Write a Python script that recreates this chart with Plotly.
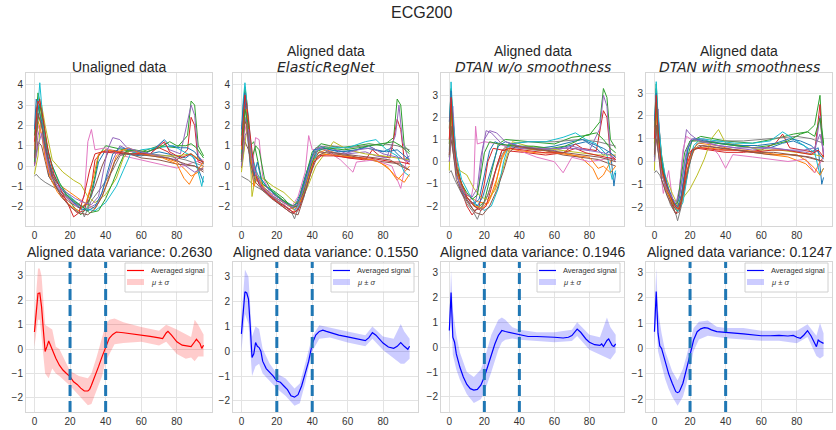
import plotly.graph_objects as go

# ---------------- DATA ----------------
x_ticks = [0, 20, 40, 60, 80]
tab10 = ["#1f77b4", "#ff7f0e", "#2ca02c", "#d62728", "#9467bd",
         "#8c564b", "#e377c2", "#7f7f7f", "#bcbd22", "#17becf"]

curves_unaligned = [
    [(0,0.5),(2,3.0),(4,2.2),(6,0.8),(8,-0.5),(12,-1.0),(18,-1.5),(24,-1.9),(28,-2.0),(32,-1.5),(36,0.2),(40,0.8),(50,0.6),(60,0.5),(70,0.7),(80,0.5),(85,0.4),(88,0.6),(90,0.3),(95,-0.8)],
    [(0,1.0),(2,2.5),(4,2.0),(8,0.3),(12,-0.8),(20,-1.3),(28,-1.8),(34,-2.1),(38,-1.5),(42,-0.5),(46,0.5),(50,0.8),(60,0.6),(70,0.5),(80,0.2),(85,-0.2),(88,-0.5),(92,-0.3),(95,0.0)],
    [(0,1.5),(2,3.6),(3,3.2),(6,1.0),(10,-0.5),(16,-1.2),(22,-2.0),(26,-2.4),(30,-2.0),(34,-0.5),(36,0.5),(40,1.0),(50,0.8),(60,0.7),(70,1.0),(80,0.9),(86,1.5),(88,3.2),(90,3.0),(92,1.0),(95,0.5)],
    [(0,0.1),(1,2.8),(3,3.3),(5,2.0),(8,0.2),(12,-1.0),(18,-1.8),(24,-2.3),(28,-2.2),(32,-1.0),(34,0.3),(38,0.7),(50,0.6),(60,0.6),(70,0.9),(75,0.7),(80,0.3),(86,0.8),(88,2.4),(90,2.0),(92,0.2),(95,0.1)],
    [(0,0.3),(2,1.5),(4,2.2),(6,0.5),(10,-0.8),(16,-1.4),(24,-2.0),(30,-2.1),(36,-1.8),(40,-0.8),(44,0.3),(48,1.0),(55,0.7),(65,0.6),(72,1.2),(76,0.8),(82,0.6),(88,3.0),(90,2.5),(92,0.5),(95,0.2)],
    [(0,0.0),(2,1.2),(4,1.0),(8,-0.5),(14,-1.3),(20,-1.8),(26,-2.1),(30,-1.8),(34,-1.0),(38,0.0),(42,0.8),(50,0.7),(60,0.4),(70,0.3),(80,0.1),(90,0.0),(95,-0.3)],
    [(0,0.2),(2,2.0),(4,1.5),(8,-0.3),(14,-1.1),(20,-1.7),(24,-2.0),(28,-1.5),(30,1.2),(32,1.8),(34,0.8),(40,0.9),(50,0.5),(60,0.3),(70,0.1),(80,-0.1),(90,0.2),(95,0.3)],
    [(0,-0.5),(1,-0.4),(3,-0.6),(6,-0.8),(12,-1.1),(20,-1.6),(26,-2.0),(28,-2.5),(32,-1.7),(38,-1.0),(44,-0.2),(48,0.5),(55,0.8),(65,0.6),(75,0.5),(85,0.3),(95,0.0)],
    [(0,-0.4),(2,0.5),(4,3.0),(6,2.0),(10,0.3),(16,-0.3),(22,-0.7),(26,-0.9),(30,-1.5),(34,-1.8),(40,-1.4),(46,-0.6),(50,0.4),(54,0.8),(60,0.7),(70,0.5),(80,0.5),(88,0.6),(95,0.2)],
    [(0,0.6),(2,3.0),(3,4.1),(5,2.0),(8,0.5),(14,-0.9),(20,-1.5),(28,-2.1),(34,-2.2),(40,-1.8),(46,-1.0),(50,-0.2),(54,0.6),(60,0.8),(70,0.9),(78,1.0),(84,0.7),(90,0.4),(94,-1.0),(95,-0.5)],
    [(0,1.8),(1,3.3),(3,2.6),(5,1.5),(7,0.6),(10,-0.3),(14,-1.0),(18,-1.4),(22,-1.8),(26,-2.1),(30,-2.2),(34,-2.0),(38,-1.3),(41,-0.3),(44,0.6),(48,0.9),(55,0.8),(62,0.6),(68,0.9),(73,1.3),(76,1.0),(82,0.9),(86,0.9),(90,0.7),(93,0.3),(95,0.1)],
    [(0,0.8),(2,2.2),(4,1.6),(6,0.4),(9,-0.6),(13,-1.3),(17,-1.7),(21,-2.0),(25,-2.2),(29,-1.8),(33,-0.6),(36,0.6),(40,0.8),(47,0.7),(53,0.9),(60,0.6),(66,0.5),(72,0.4),(80,0.1),(84,-0.6),(87,-0.9),(90,-0.4),(95,0.2)],
    [(0,0.2),(1,1.5),(3,3.0),(5,2.2),(7,1.0),(10,0.0),(14,-0.8),(18,-1.4),(22,-1.7),(27,-2.0),(31,-2.3),(36,-2.2),(40,-1.6),(44,-0.8),(48,0.1),(51,0.7),(56,0.8),(63,0.7),(70,0.9),(76,1.2),(80,1.0),(85,1.0),(88,1.1),(91,0.9),(95,0.4)],
    [(0,1.2),(2,3.2),(4,2.8),(6,1.6),(8,0.6),(11,-0.4),(15,-1.2),(19,-1.9),(22,-2.5),(25,-2.3),(28,-1.4),(31,-0.2),(34,0.6),(38,0.7),(45,0.7),(55,0.6),(65,0.6),(73,1.2),(76,0.7),(82,0.4),(88,0.6),(92,0.3),(95,0.2)],
    [(0,0.0),(2,1.0),(4,1.6),(6,0.8),(9,-0.4),(13,-1.0),(18,-1.3),(23,-1.6),(28,-1.8),(32,-1.9),(36,-1.5),(38,-0.5),(41,0.8),(44,1.4),(48,1.3),(52,0.9),(60,0.7),(70,0.5),(80,0.3),(85,0.0),(90,-0.3),(95,-0.1)],
    [(0,0.4),(2,2.6),(4,2.0),(6,0.9),(10,-0.6),(15,-1.5),(20,-2.0),(25,-2.3),(30,-2.4),(34,-2.1),(38,-1.5),(42,-0.6),(45,0.2),(48,0.6),(55,0.6),(65,0.5),(75,0.4),(85,0.1),(90,0.0),(95,-0.2)],
]

curves_elastic = [
    [(0,0.3),(1,2.5),(2,3.4),(3,2.0),(5,0.0),(7,-0.8),(9,-0.5),(12,-1.0),(16,-1.3),(20,-1.5),(26,-1.8),(30,-2.0),(33,-1.4),(36,-0.5),(40,0.5),(44,1.0),(50,0.8),(60,0.7),(70,0.9),(75,0.8),(80,0.7),(85,0.9),(88,0.6),(92,0.3),(95,0.5)],
    [(0,1.2),(2,2.4),(4,1.5),(6,0.5),(8,-0.2),(12,-0.9),(18,-1.3),(24,-1.7),(30,-2.2),(34,-1.6),(38,-0.5),(42,0.6),(48,0.8),(58,0.5),(68,0.4),(78,0.2),(84,-0.2),(88,-0.7),(92,-0.3),(95,0.0)],
    [(0,1.5),(2,3.9),(3,3.2),(5,1.0),(7,1.2),(9,0.3),(12,-0.9),(18,-1.2),(24,-1.6),(28,-2.0),(32,-1.8),(36,-0.6),(40,0.7),(45,1.1),(55,0.9),(65,1.0),(72,1.1),(80,1.0),(86,1.4),(88,3.3),(90,3.0),(92,1.0),(95,0.7)],
    [(0,0.2),(2,3.0),(3,3.1),(5,1.0),(7,-0.3),(10,-0.8),(16,-1.5),(22,-1.9),(28,-2.3),(32,-2.2),(36,-1.0),(40,0.1),(44,0.5),(50,0.6),(60,0.4),(70,0.3),(74,0.8),(78,0.5),(84,0.4),(88,2.3),(90,1.8),(92,0.3),(95,0.1)],
    [(0,0.5),(1,1.8),(3,2.5),(5,0.5),(8,-0.6),(12,-1.1),(18,-1.5),(26,-1.9),(31,-2.1),(35,-1.4),(39,-0.2),(43,0.8),(50,0.9),(60,0.6),(70,0.7),(76,0.5),(82,0.4),(87,1.5),(89,3.0),(91,1.2),(95,0.2)],
    [(0,-0.1),(2,1.2),(4,0.8),(7,-0.4),(12,-1.2),(20,-1.7),(27,-2.1),(31,-2.0),(35,-1.2),(40,0.2),(44,0.7),(52,0.6),(62,0.5),(72,0.3),(82,0.2),(90,0.1),(95,-0.2)],
    [(0,0.3),(2,2.0),(4,1.2),(6,-0.2),(8,1.4),(10,1.3),(12,-0.5),(16,-1.3),(22,-1.6),(27,-2.2),(32,-1.5),(36,-0.3),(38,1.5),(40,0.8),(46,0.9),(56,0.3),(63,-0.3),(65,0.2),(75,0.3),(85,0.0),(90,-1.1),(93,0.2),(95,0.4)],
    [(0,-0.5),(2,-0.6),(4,-0.7),(8,-1.0),(14,-1.3),(22,-1.8),(28,-2.2),(30,-2.6),(33,-1.8),(37,-0.4),(42,0.9),(50,1.0),(60,0.9),(70,1.0),(80,1.1),(88,1.0),(95,0.8)],
    [(0,-0.3),(2,1.0),(4,2.5),(6,-1.5),(8,-0.5),(12,-0.6),(18,-1.0),(24,-1.3),(30,-1.8),(34,-1.7),(38,-0.9),(42,0.0),(46,0.5),(52,1.2),(60,0.8),(70,0.6),(80,0.5),(88,0.4),(95,0.3)],
    [(0,0.6),(1,3.2),(2,4.1),(4,2.2),(6,0.5),(9,-0.4),(14,-1.0),(20,-1.4),(26,-1.9),(31,-2.2),(35,-1.6),(39,-0.3),(43,0.8),(50,0.9),(60,0.9),(70,1.2),(76,1.3),(82,0.8),(88,0.5),(92,-0.3),(95,-0.5)],
    [(0,1.8),(1,3.0),(2,3.6),(3,2.5),(5,0.8),(7,-0.5),(9,0.2),(11,-0.6),(15,-1.1),(20,-1.5),(25,-1.8),(29,-2.1),(33,-1.6),(37,-0.4),(41,0.8),(46,0.9),(55,0.7),(65,0.8),(72,1.0),(76,0.8),(82,0.7),(88,0.8),(92,0.5),(95,0.3)],
    [(0,0.8),(2,2.6),(3,2.8),(5,0.8),(7,-1.0),(9,-0.6),(13,-1.1),(18,-1.5),(24,-1.8),(29,-2.1),(33,-1.8),(37,-0.8),(41,0.3),(45,0.6),(55,0.5),(65,0.4),(75,0.3),(82,0.0),(87,-0.5),(92,-0.8),(95,-0.4)],
    [(0,0.2),(1,1.4),(2,2.8),(4,2.0),(6,0.4),(8,1.0),(10,0.8),(13,-0.6),(17,-1.2),(22,-1.6),(27,-1.9),(31,-2.0),(35,-1.3),(38,-0.3),(42,0.7),(48,0.9),(58,0.8),(66,0.9),(72,1.0),(80,1.1),(86,1.2),(90,1.0),(95,0.6)],
    [(0,1.0),(2,3.5),(3,3.0),(5,1.5),(7,0.0),(10,-0.9),(15,-1.4),(21,-1.8),(26,-2.1),(30,-2.3),(33,-2.0),(37,-1.0),(41,0.2),(45,0.5),(52,0.5),(62,0.4),(72,0.4),(80,0.3),(86,0.2),(90,0.2),(95,0.1)],
    [(0,0.0),(2,1.5),(4,1.8),(6,0.3),(8,-0.3),(11,-1.0),(16,-1.4),(22,-1.7),(28,-2.0),(32,-1.9),(36,-0.9),(40,0.4),(44,0.9),(50,0.7),(58,0.6),(66,0.8),(74,0.9),(80,0.6),(86,0.5),(90,0.4),(95,0.2)],
    [(0,0.3),(2,2.2),(3,2.0),(5,0.2),(8,-0.8),(12,-1.2),(17,-1.6),(23,-2.0),(28,-2.3),(32,-2.4),(35,-1.6),(39,-0.4),(43,0.5),(48,0.7),(56,0.6),(66,0.5),(76,0.4),(84,0.3),(90,0.0),(95,-0.2)],
]

curves_dtan_nosmooth = [
    [(0,0.5),(1,3.0),(2,1.5),(4,-0.5),(7,-1.2),(10,-1.6),(14,-1.9),(17,-1.7),(20,-0.6),(23,0.5),(26,0.9),(32,0.7),(42,0.6),(52,0.5),(62,0.6),(72,0.8),(78,0.9),(84,0.6),(88,0.3),(92,0.5),(94,-1.1),(95,-0.5)],
    [(0,1.0),(1,2.4),(3,0.8),(6,-0.8),(10,-1.5),(16,-1.8),(22,-1.9),(26,-1.2),(30,0.2),(34,0.8),(42,0.6),(55,0.5),(65,0.4),(75,0.2),(82,-0.3),(85,-0.8),(88,-0.6),(92,0.0),(95,0.2)],
    [(0,1.5),(1,3.3),(2,2.0),(4,0.0),(8,-1.4),(12,-1.8),(16,-2.1),(20,-1.8),(24,-0.5),(28,0.8),(32,1.0),(45,0.9),(60,0.8),(70,1.1),(80,1.2),(86,1.8),(88,3.3),(90,2.9),(92,1.0),(95,0.6)],
    [(0,0.2),(1,2.5),(2,1.0),(4,-0.5),(7,-1.3),(10,-2.0),(13,-2.4),(17,-2.0),(20,-1.0),(22,0.0),(25,0.6),(32,0.5),(45,0.4),(55,0.3),(65,0.4),(72,0.8),(76,0.6),(84,0.5),(88,2.3),(90,2.0),(92,0.3),(95,0.1)],
    [(0,0.4),(1,1.8),(2,2.5),(4,0.0),(6,-1.2),(9,-1.6),(12,-1.9),(15,-1.8),(17,-1.0),(19,0.5),(21,1.4),(24,1.3),(30,0.8),(40,0.6),(50,0.6),(60,0.5),(70,0.7),(80,0.5),(86,1.5),(88,3.0),(90,2.5),(92,0.4),(95,0.2)],
    [(0,0.0),(1,1.0),(3,0.0),(6,-1.0),(10,-1.7),(14,-2.2),(18,-2.1),(22,-1.5),(26,-0.5),(30,0.5),(34,0.8),(45,0.6),(55,0.5),(65,0.3),(75,0.2),(85,0.1),(95,-0.2)],
    [(0,0.3),(1,2.0),(3,0.5),(6,-1.0),(9,-1.5),(12,-1.8),(14,-1.0),(15,1.6),(16,0.8),(20,0.9),(28,0.8),(40,0.5),(50,0.2),(60,0.0),(65,-0.5),(70,0.2),(80,0.0),(88,0.1),(92,0.2),(95,0.3)],
    [(0,-0.5),(1,-0.4),(3,-0.8),(6,-1.3),(10,-1.9),(14,-2.3),(16,-2.6),(18,-2.2),(22,-1.5),(26,-0.5),(30,0.3),(34,0.8),(45,0.9),(60,0.9),(75,1.0),(85,0.9),(95,0.7)],
    [(0,-0.4),(1,3.0),(2,1.0),(4,-0.2),(6,-0.4),(10,-0.6),(14,-1.2),(18,-1.6),(22,-1.7),(26,-1.3),(30,-0.5),(33,0.3),(36,0.9),(45,0.7),(55,0.6),(65,0.5),(75,0.4),(85,0.3),(95,0.3)],
    [(0,0.8),(1,3.6),(2,2.0),(4,0.3),(7,-0.8),(11,-1.4),(15,-1.9),(20,-2.2),(24,-2.0),(28,-1.2),(31,0.0),(34,0.8),(45,0.9),(55,0.9),(65,1.1),(72,1.3),(78,1.0),(84,0.8),(90,0.3),(93,-0.8),(95,-0.4)],
    [(0,1.8),(1,3.2),(2,1.8),(3,0.2),(5,-0.8),(8,-1.4),(12,-1.8),(16,-2.0),(19,-1.6),(22,-0.8),(25,0.0),(28,0.7),(32,0.9),(40,0.7),(50,0.6),(60,0.7),(70,0.9),(76,1.0),(82,0.8),(88,0.6),(92,0.4),(95,0.2)],
    [(0,0.8),(1,2.2),(2,1.0),(4,-0.4),(7,-1.2),(11,-1.7),(15,-2.0),(19,-2.1),(23,-1.7),(27,-0.8),(30,0.1),(33,0.6),(40,0.5),(50,0.4),(60,0.4),(70,0.3),(80,0.2),(85,-0.3),(88,-0.2),(92,-0.5),(95,-0.2)],
    [(0,0.2),(1,2.6),(2,1.2),(4,-0.3),(7,-1.0),(10,-1.4),(13,-1.7),(16,-1.5),(18,-0.6),(20,0.4),(23,0.9),(28,0.8),(38,0.7),(48,0.7),(58,0.6),(66,0.7),(72,0.9),(78,1.2),(84,1.3),(88,1.0),(92,0.6),(95,0.4)],
    [(0,1.0),(1,2.9),(2,1.5),(4,-0.2),(7,-1.0),(10,-1.6),(14,-2.0),(18,-2.2),(21,-2.0),(24,-1.2),(27,-0.2),(30,0.5),(35,0.6),(45,0.5),(55,0.4),(65,0.4),(72,0.6),(78,0.4),(84,0.3),(90,0.2),(95,0.1)],
    [(0,0.0),(1,1.4),(2,0.8),(4,-0.6),(7,-1.2),(10,-1.5),(13,-1.6),(16,-1.2),(18,0.2),(20,1.0),(23,1.4),(27,1.3),(32,0.9),(40,0.7),(50,0.6),(60,0.6),(70,0.6),(80,0.5),(88,0.4),(92,0.3),(95,0.0)],
    [(0,0.3),(1,1.6),(2,0.6),(4,-0.8),(7,-1.4),(11,-1.9),(15,-2.3),(19,-2.4),(23,-2.0),(27,-1.3),(31,-0.4),(34,0.4),(38,0.7),(48,0.6),(58,0.5),(68,0.4),(78,0.3),(86,0.2),(95,0.0)],
]

curves_dtan_smooth = [
    [(0,0.5),(1,3.2),(2,1.5),(4,0.0),(6,-1.0),(9,-1.6),(12,-2.0),(14,-1.6),(17,0.0),(20,0.9),(25,1.0),(35,0.8),(45,0.7),(55,0.6),(65,0.6),(72,0.8),(78,0.9),(84,0.7),(88,0.4),(92,0.6),(94,-1.0),(95,-0.7)],
    [(0,1.0),(1,2.4),(3,0.5),(6,-1.0),(9,-1.6),(12,-2.0),(15,-1.8),(18,-0.5),(21,0.5),(25,0.8),(35,0.7),(45,0.5),(55,0.4),(65,0.3),(75,0.2),(85,-0.1),(90,-0.5),(93,0.0),(95,0.2)],
    [(0,1.5),(1,3.4),(2,2.0),(4,0.3),(7,-1.2),(10,-1.9),(13,-2.2),(15,-1.6),(18,0.0),(21,0.9),(26,1.1),(40,0.9),(55,0.8),(68,1.0),(78,1.2),(86,1.3),(90,1.6),(92,2.5),(93,2.9),(94,1.5),(95,0.8)],
    [(0,0.2),(1,2.4),(2,1.5),(4,-0.2),(7,-1.3),(10,-1.9),(12,-2.3),(14,-2.0),(16,-1.0),(19,0.3),(22,0.6),(30,0.5),(40,0.4),(50,0.4),(60,0.5),(68,0.8),(72,1.2),(76,0.6),(84,0.5),(90,0.4),(93,2.5),(94,1.0),(95,0.2)],
    [(0,0.4),(1,1.8),(2,2.3),(4,0.0),(6,-0.8),(9,-1.5),(12,-1.9),(14,-1.2),(16,0.3),(18,1.4),(20,1.2),(25,0.9),(35,0.7),(45,0.6),(55,0.5),(65,0.6),(75,0.5),(85,0.4),(90,0.3),(93,2.0),(95,0.3)],
    [(0,0.0),(1,1.0),(3,0.0),(6,-1.1),(9,-1.7),(12,-2.1),(15,-1.8),(18,-0.6),(21,0.4),(25,0.7),(35,0.6),(45,0.5),(55,0.4),(65,0.3),(75,0.3),(85,0.2),(95,0.0)],
    [(0,0.3),(1,2.0),(2,1.0),(3,-0.2),(5,-1.4),(8,-0.4),(10,-1.6),(12,-2.0),(14,-1.3),(16,0.5),(18,1.1),(22,0.9),(28,1.0),(36,0.3),(40,-0.3),(44,0.3),(55,0.2),(65,0.1),(75,0.0),(85,0.1),(90,-0.5),(95,0.2)],
    [(0,-0.5),(1,-0.4),(3,-0.6),(6,-1.2),(9,-1.9),(12,-2.3),(13,-2.6),(15,-2.0),(18,-0.8),(21,0.4),(24,0.8),(35,0.9),(50,0.9),(65,1.0),(80,1.1),(88,1.0),(95,0.8)],
    [(0,-0.4),(1,2.8),(2,1.0),(4,-0.3),(7,-0.8),(10,-1.4),(13,-1.9),(16,-1.6),(20,-1.2),(24,-0.6),(28,0.1),(32,1.0),(36,1.4),(40,0.8),(50,0.7),(60,0.5),(70,0.5),(80,0.4),(90,0.3),(95,0.2)],
    [(0,0.8),(1,3.5),(2,2.0),(4,0.2),(7,-1.0),(10,-1.7),(13,-2.2),(16,-1.8),(19,-0.4),(22,0.7),(26,1.0),(35,0.9),(45,0.8),(55,0.8),(65,0.9),(72,1.3),(78,1.0),(84,0.7),(90,0.4),(93,-0.6),(95,-0.3)],
    [(0,1.8),(1,3.0),(2,1.6),(3,0.5),(5,-0.4),(8,-1.2),(11,-1.8),(13,-2.0),(15,-1.5),(17,-0.4),(19,0.6),(22,1.0),(28,0.9),(38,0.8),(48,0.7),(58,0.7),(68,0.8),(76,1.0),(82,0.9),(88,0.7),(92,0.4),(95,0.1)],
    [(0,0.8),(1,2.2),(2,0.8),(4,-0.5),(7,-1.3),(10,-1.8),(13,-2.1),(15,-1.9),(17,-1.0),(20,0.1),(23,0.6),(30,0.6),(40,0.5),(50,0.5),(60,0.4),(70,0.3),(80,0.3),(86,0.0),(90,-0.3),(93,-0.6),(95,-0.3)],
    [(0,0.2),(1,2.6),(2,1.2),(4,-0.1),(6,-0.9),(9,-1.5),(11,-1.9),(13,-1.8),(15,-0.8),(17,0.4),(20,0.9),(25,0.9),(35,0.8),(45,0.7),(55,0.6),(65,0.7),(75,0.9),(82,1.2),(86,1.3),(90,1.1),(93,1.9),(95,0.7)],
    [(0,1.0),(1,2.9),(2,1.4),(4,-0.3),(7,-1.1),(10,-1.7),(12,-2.0),(14,-2.1),(16,-1.4),(18,-0.2),(21,0.5),(26,0.6),(36,0.5),(46,0.5),(56,0.4),(66,0.5),(74,0.5),(82,0.4),(88,0.3),(92,0.5),(95,0.2)],
    [(0,0.0),(1,1.4),(2,0.6),(4,-0.6),(7,-1.2),(10,-1.6),(12,-1.8),(14,-1.5),(16,-0.6),(18,0.5),(21,1.0),(26,0.9),(36,0.7),(46,0.6),(56,0.6),(66,0.6),(76,0.5),(84,0.5),(90,0.6),(93,1.2),(95,0.4)],
    [(0,0.3),(1,1.6),(2,0.5),(4,-0.8),(7,-1.5),(10,-2.0),(12,-2.3),(14,-2.2),(16,-1.5),(19,-0.3),(22,0.5),(27,0.7),(37,0.6),(47,0.5),(57,0.4),(67,0.4),(77,0.3),(87,0.2),(95,0.0)],
]

# mean signals (bottom row)
mean_x_unaligned = [0,1,2,3,4,5,6,7,8,9,10,12,14,16,18,20,22,24,26,28,30,31,32,34,36,38,40,42,44,46,50,55,60,65,70,72,74,75,77,80,83,86,88,90,91,93,94,95]
mean_unaligned = [0.7,1.6,2.28,2.3,1.73,0.78,-0.1,0.1,0.33,0.16,-0.04,-0.38,-0.66,-0.86,-1.0,-1.13,-1.34,-1.45,-1.6,-1.72,-1.72,-1.65,-1.48,-1.13,-0.72,-0.31,0.1,0.44,0.6,0.7,0.67,0.63,0.58,0.52,0.46,0.43,0.66,0.73,0.57,0.3,0.16,0.12,0.1,0.3,0.4,0.23,0.03,0.16]
band_x_unaligned = [0,2,3,4,6,8,10,12,14,20,25,30,32,35,38,40,42,45,50,60,70,74,80,85,88,90,92,95]
band_lo_unaligned = [0.1,1.2,1.2,0.5,-1.0,-1.2,-0.8,-1.0,-1.1,-1.5,-1.9,-2.3,-2.25,-1.7,-1.1,-0.5,-0.2,0.2,0.25,0.3,0.15,0.3,-0.2,-0.4,-0.35,-0.5,-0.3,-0.3]
band_hi_unaligned = [1.3,3.3,3.3,3.0,1.0,0.9,0.8,0.1,0.0,-0.9,-1.1,-1.2,-1.0,-0.3,0.5,1.0,1.2,1.25,1.1,0.9,0.75,1.0,0.8,0.6,0.5,1.2,1.0,0.6]

mean_x_elastic = [0,1,2,3,4,5,6,7,8,9,10,11,12,14,16,18,20,22,24,26,28,30,32,34,36,38,40,42,44,46,48,50,55,60,65,70,72,74,76,78,80,83,86,88,90,92,94,95]
mean_elastic = [0.7,1.55,2.4,2.35,2.1,1.0,-0.25,-0.1,0.35,0.2,0.15,0.0,-0.4,-0.7,-0.85,-1.0,-1.2,-1.25,-1.4,-1.55,-1.8,-1.85,-1.75,-1.4,-0.9,-0.4,0.3,0.65,0.8,0.85,0.8,0.75,0.65,0.58,0.5,0.43,0.55,0.75,0.65,0.5,0.33,0.17,0.12,0.2,0.35,0.2,0.08,0.2]
band_x_elastic = [0,2,4,6,8,10,12,16,20,25,30,33,36,40,44,50,60,70,74,80,86,90,92,95]
band_lo_elastic = [0.0,1.5,1.1,-1.0,-0.6,-0.5,-0.9,-1.2,-1.5,-1.8,-2.2,-2.1,-1.3,0.0,0.5,0.55,0.35,0.2,0.5,0.05,-0.3,-0.5,-0.5,-0.3]
band_hi_elastic = [1.3,3.3,3.0,0.6,1.0,0.9,0.1,-0.5,-0.9,-1.1,-1.5,-1.3,-0.5,0.6,1.05,0.95,0.8,0.65,1.0,0.6,0.5,1.1,0.8,0.5]

mean_x_nosmooth = [0,1,2,3,4,6,8,10,12,14,16,18,20,22,24,26,28,30,32,34,36,38,40,45,50,55,60,65,68,70,72,73,75,78,80,83,86,87,88,90,91,93,94,95]
mean_nosmooth = [0.67,2.2,0.4,0.2,-0.27,-0.8,-1.2,-1.5,-1.67,-1.73,-1.7,-1.53,-1.2,-0.73,-0.27,0.13,0.47,0.67,0.63,0.6,0.58,0.53,0.5,0.43,0.43,0.4,0.4,0.37,0.4,0.47,0.67,0.73,0.6,0.33,0.2,0.1,0.07,0.13,0.03,0.27,0.33,0.07,0.03,0.13]
band_x_nosmooth = [0,1,2,4,6,10,14,18,20,24,28,30,32,36,40,50,60,70,73,80,86,90,92,95]
band_lo_nosmooth = [0.1,1.3,-0.3,-0.9,-1.3,-1.9,-2.25,-2.1,-1.8,-1.0,-0.1,0.2,0.3,0.35,0.3,0.25,0.2,0.25,0.45,-0.1,-0.3,-0.4,-0.5,-0.2]
band_hi_nosmooth = [1.0,3.1,1.5,0.5,-0.2,-1.0,-1.2,-0.9,-0.5,0.5,1.1,1.2,1.1,0.8,0.7,0.6,0.6,0.7,1.0,0.5,0.4,1.2,0.8,0.5]

mean_x_smooth = [0,1,2,3,4,5,6,8,10,12,13,14,16,18,20,22,24,26,28,30,32,35,40,45,50,55,60,65,70,75,78,80,82,84,86,88,90,91,92,93,95]
mean_smooth = [0.66,2.24,0.6,0.1,0.0,-0.25,-0.6,-1.0,-1.37,-1.7,-1.74,-1.7,-1.37,-0.85,-0.25,0.33,0.66,0.77,0.82,0.8,0.73,0.66,0.62,0.6,0.57,0.53,0.5,0.5,0.51,0.49,0.51,0.44,0.4,0.53,0.7,0.49,0.2,0.07,0.33,0.27,0.2]
band_x_smooth = [0,1,2,4,6,8,10,13,16,18,20,22,25,30,35,40,50,60,70,80,86,90,91,93,95]
band_lo_smooth = [0.1,1.3,-0.1,-0.7,-1.2,-1.6,-1.9,-2.25,-1.9,-1.4,-0.7,-0.1,0.35,0.5,0.45,0.4,0.35,0.3,0.3,0.2,0.45,-0.2,-0.3,-0.4,-0.3]
band_hi_smooth = [1.2,3.15,1.5,0.6,-0.1,-0.5,-0.9,-1.25,-0.8,-0.3,0.3,0.8,1.05,1.1,0.85,0.8,0.8,0.7,0.7,0.7,0.95,0.6,0.5,1.0,0.6]

variances = ["0.2630", "0.1550", "0.1946", "0.1247"]
vline_x = [20, 40]
legend_labels = ["Averaged signal", "<i>μ</i> ± <i>σ</i>"]

top_titles_1 = ["Unaligned data", "Aligned data", "Aligned data", "Aligned data"]
top_titles_2 = ["", "ElasticRegNet", "DTAN w/o smoothness", "DTAN with smoothness"]

# ---------------- LAYOUT GEOMETRY ----------------
W, H = 836, 430
col_px = [(26, 212), (233, 418), (441, 624), (646, 832)]
top_row_px = (73, 226)
bot_row_px = (262, 412)
top_yranges = [[-2.95, 4.58], [-2.95, 4.58], [-2.9, 4.0], [-2.83, 3.88]]
bot_yranges = [[-2.58, 3.57], [-2.45, 3.6], [-2.61, 3.43], [-2.5, 3.4]]
top_yticks = [[-2, -1, 0, 1, 2, 3, 4], [-2, -1, 0, 1, 2, 3, 4], [-2, -1, 0, 1, 2, 3], [-2, -1, 0, 1, 2, 3]]
bot_yticks = [-2, -1, 0, 1, 2, 3]

def px_x(p):
    return p / W

def px_y(p):
    return 1 - p / H

def xd(c):
    return [px_x(col_px[c][0]), px_x(col_px[c][1])]

def yd(r):
    return [px_y(r[1]), px_y(r[0])]

fig = go.Figure()

FONT = "Liberation Sans, Arial, sans-serif"
GRID = "#e3e3e3"
FRAME = "#d6d6d6"
TICKC = "#333333"

axis_common = dict(showgrid=True, gridcolor=GRID, gridwidth=1, zeroline=False,
                   showline=True, mirror=True, linecolor=FRAME, linewidth=1,
                   ticks="", tickfont=dict(family=FONT, size=10, color=TICKC))

layout = {}
top_sets = [curves_unaligned, curves_elastic, curves_dtan_nosmooth, curves_dtan_smooth]
means = [(mean_x_unaligned, mean_unaligned), (mean_x_elastic, mean_elastic),
         (mean_x_nosmooth, mean_nosmooth), (mean_x_smooth, mean_smooth)]
bands = [(band_x_unaligned, band_lo_unaligned, band_hi_unaligned),
         (band_x_elastic, band_lo_elastic, band_hi_elastic),
         (band_x_nosmooth, band_lo_nosmooth, band_hi_nosmooth),
         (band_x_smooth, band_lo_smooth, band_hi_smooth)]
mean_colors = ["red", "blue", "blue", "blue"]
band_colors = ["rgba(255,0,0,0.2)", "rgba(0,0,255,0.2)", "rgba(0,0,255,0.2)", "rgba(0,0,255,0.2)"]

shapes = []
legend_shapes = []
annotations = []

for c in range(4):
    ti, bi = c + 1, c + 5
    tx = "x" if ti == 1 else f"x{ti}"
    ty = "y" if ti == 1 else f"y{ti}"
    bx, by = f"x{bi}", f"y{bi}"
    layout["xaxis" if ti == 1 else f"xaxis{ti}"] = dict(axis_common, domain=xd(c), anchor=ty,
                                                        range=[-4.75, 99.75], tickvals=x_ticks)
    layout["yaxis" if ti == 1 else f"yaxis{ti}"] = dict(axis_common, domain=yd(top_row_px), anchor=tx,
                                                        range=top_yranges[c], tickvals=top_yticks[c])
    layout[f"xaxis{bi}"] = dict(axis_common, domain=xd(c), anchor=by,
                                range=[-4.75, 99.75], tickvals=x_ticks)
    layout[f"yaxis{bi}"] = dict(axis_common, domain=yd(bot_row_px), anchor=bx,
                                range=bot_yranges[c], tickvals=bot_yticks)

    for k, curve in enumerate(top_sets[c]):
        fig.add_trace(go.Scatter(x=[p[0] for p in curve], y=[p[1] for p in curve], mode="lines",
                                 line=dict(color=tab10[k % 10], width=1), showlegend=False,
                                 hoverinfo="skip", xaxis=tx, yaxis=ty))

    mx, my = means[c]
    fig.add_trace(go.Scatter(x=mx, y=my, mode="lines", line=dict(color=mean_colors[c], width=1.2),
                             name="Averaged signal", showlegend=False,
                             hoverinfo="skip", xaxis=bx, yaxis=by))
    bxv, blo, bhi = bands[c]
    fig.add_trace(go.Scatter(x=bxv, y=blo, mode="lines", line=dict(width=0, color=band_colors[c]),
                             showlegend=False, hoverinfo="skip", xaxis=bx, yaxis=by))
    fig.add_trace(go.Scatter(x=bxv, y=bhi, mode="lines", line=dict(width=0, color=band_colors[c]),
                             fill="tonexty", fillcolor=band_colors[c], name="μ ± σ",
                             showlegend=False, hoverinfo="skip", xaxis=bx, yaxis=by))

    for v in vline_x:
        shapes.append(dict(type="line", xref=bx, yref=f"{by} domain", x0=v, x1=v, y0=0, y1=1,
                           line=dict(color="#1f77b4", width=3, dash="11px,5px"), layer="above"))

    # per-panel legend box (placed relative to the panel's right edge)
    r = col_px[c][1] - 4
    l = r - 83
    t, b = bot_row_px[0] + 1, bot_row_px[0] + 30
    legend_shapes.append(dict(type="rect", xref="paper", yref="paper", x0=px_x(l), x1=px_x(r),
                              y0=px_y(b), y1=px_y(t), fillcolor="rgba(255,255,255,0.8)",
                              line=dict(color="#d0d0d0", width=1), layer="above"))
    legend_shapes.append(dict(type="line", xref="paper", yref="paper", x0=px_x(l + 2), x1=px_x(l + 19),
                              y0=px_y(t + 7.5), y1=px_y(t + 7.5),
                              line=dict(color=mean_colors[c], width=1.2), layer="above"))
    legend_shapes.append(dict(type="rect", xref="paper", yref="paper", x0=px_x(l + 2), x1=px_x(l + 19),
                              y0=px_y(t + 22), y1=px_y(t + 16), fillcolor=band_colors[c],
                              line=dict(width=0), layer="above"))
    annotations.append(dict(text=legend_labels[0], x=px_x(l + 24), y=px_y(t + 7.5), xref="paper", yref="paper",
                            showarrow=False, xanchor="left", yanchor="middle",
                            font=dict(family=FONT, size=7.5, color="#333333")))
    annotations.append(dict(text=legend_labels[1], x=px_x(l + 24), y=px_y(t + 19), xref="paper", yref="paper",
                            showarrow=False, xanchor="left", yanchor="middle",
                            font=dict(family=FONT, size=7.5, color="#333333")))

    cx = px_x((col_px[c][0] + col_px[c][1]) / 2)
    if c == 0:
        annotations.append(dict(text=top_titles_1[c], x=cx, y=px_y(66.5), xref="paper", yref="paper",
                                showarrow=False, xanchor="center", yanchor="middle",
                                font=dict(family=FONT, size=14, color="#262626")))
    else:
        annotations.append(dict(text=top_titles_1[c], x=cx, y=px_y(51), xref="paper", yref="paper",
                                showarrow=False, xanchor="center", yanchor="middle",
                                font=dict(family=FONT, size=14, color="#262626")))
        annotations.append(dict(text=f"<i>{top_titles_2[c]}</i>", x=cx, y=px_y(66.5), xref="paper", yref="paper",
                                showarrow=False, xanchor="center", yanchor="middle",
                                font=dict(family="DejaVu Sans", size=14, color="#262626")))
    annotations.append(dict(text=f"Aligned data variance: {variances[c]}", x=cx, y=px_y(252),
                            xref="paper", yref="paper", showarrow=False, xanchor="center", yanchor="middle",
                            font=dict(family=FONT, size=14, color="#262626")))

annotations.append(dict(text="ECG200", x=px_x(421), y=px_y(12), xref="paper", yref="paper", showarrow=False,
                        xanchor="center", yanchor="middle", font=dict(family=FONT, size=16, color="#262626")))

fig.update_layout(**layout)
fig.update_layout(width=W, height=H, margin=dict(l=0, r=0, t=0, b=0),
                  paper_bgcolor="white", plot_bgcolor="white", showlegend=False,
                  shapes=shapes + legend_shapes, annotations=annotations, font=dict(family=FONT))

fig.write_html("out.html", config={"displayModeBar": False},
               post_script="document.body.style.margin='0';document.body.style.padding='0';")
